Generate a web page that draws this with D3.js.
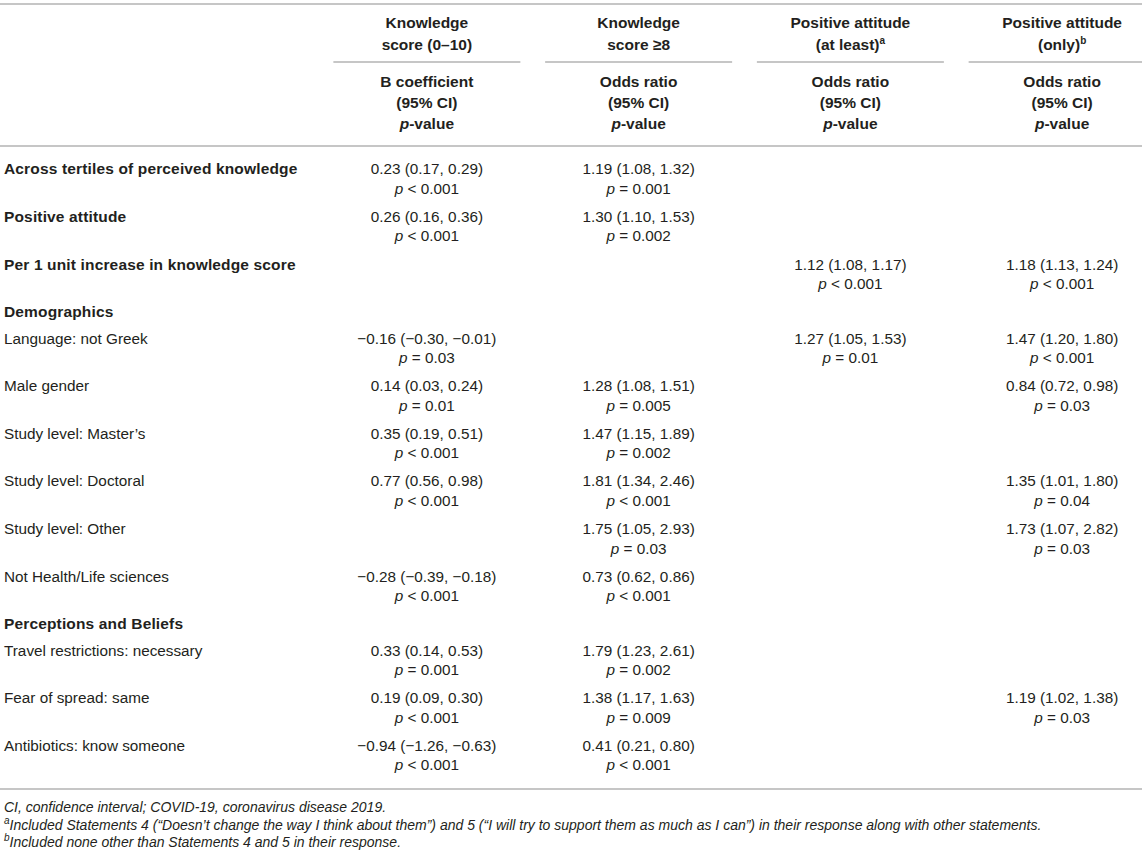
<!DOCTYPE html>
<html>
<head>
<meta charset="utf-8">
<script src="https://cdn.jsdelivr.net/npm/d3@7"></script>
<style>
  html, body { margin: 0; padding: 0; background: #fff; }
  svg { display: block; font-family: "Liberation Sans", Arial, Helvetica, sans-serif; }
</style>
</head>
<body>
<svg id="chart" width="1146" height="858"></svg>
<script>
// ---------- DATA ----------
const columns = ["knowledgeScore", "knowledgeHigh", "attitudeAtLeast", "attitudeOnly"];
const headerLine1 = ["Knowledge", "Knowledge", "Positive attitude", "Positive attitude"];
const headerLine2 = ["score (0–10)", "score ≥8", "(at least)", "(only)"];
const headerNote = ["", "", "a", "b"];
const measureLabel = ["B coefficient", "Odds ratio", "Odds ratio", "Odds ratio"];

const rowLabels = [
  "Across tertiles of perceived knowledge",
  "Positive attitude",
  "Per 1 unit increase in knowledge score",
  "Demographics",
  "Language: not Greek",
  "Male gender",
  "Study level: Master’s",
  "Study level: Doctoral",
  "Study level: Other",
  "Not Health/Life sciences",
  "Perceptions and Beliefs",
  "Travel restrictions: necessary",
  "Fear of spread: same",
  "Antibiotics: know someone"
];
const boldRows = [
  "Across tertiles of perceived knowledge",
  "Positive attitude",
  "Per 1 unit increase in knowledge score",
  "Demographics",
  "Perceptions and Beliefs"
];
const sectionRows = ["Demographics", "Perceptions and Beliefs"];

// [estimate, lower CI, upper CI, p comparator, p value]
const knowledgeScore = [
  [0.23, 0.17, 0.29, "<", "0.001"],
  [0.26, 0.16, 0.36, "<", "0.001"],
  null,
  null,
  [-0.16, -0.30, -0.01, "=", "0.03"],
  [0.14, 0.03, 0.24, "=", "0.01"],
  [0.35, 0.19, 0.51, "<", "0.001"],
  [0.77, 0.56, 0.98, "<", "0.001"],
  null,
  [-0.28, -0.39, -0.18, "<", "0.001"],
  null,
  [0.33, 0.14, 0.53, "=", "0.001"],
  [0.19, 0.09, 0.30, "<", "0.001"],
  [-0.94, -1.26, -0.63, "<", "0.001"]
];
const knowledgeHigh = [
  [1.19, 1.08, 1.32, "=", "0.001"],
  [1.30, 1.10, 1.53, "=", "0.002"],
  null,
  null,
  null,
  [1.28, 1.08, 1.51, "=", "0.005"],
  [1.47, 1.15, 1.89, "=", "0.002"],
  [1.81, 1.34, 2.46, "<", "0.001"],
  [1.75, 1.05, 2.93, "=", "0.03"],
  [0.73, 0.62, 0.86, "<", "0.001"],
  null,
  [1.79, 1.23, 2.61, "=", "0.002"],
  [1.38, 1.17, 1.63, "=", "0.009"],
  [0.41, 0.21, 0.80, "<", "0.001"]
];
const attitudeAtLeast = [
  null,
  null,
  [1.12, 1.08, 1.17, "<", "0.001"],
  null,
  [1.27, 1.05, 1.53, "=", "0.01"],
  null, null, null, null, null, null, null, null, null
];
const attitudeOnly = [
  null,
  null,
  [1.18, 1.13, 1.24, "<", "0.001"],
  null,
  [1.47, 1.20, 1.80, "<", "0.001"],
  [0.84, 0.72, 0.98, "=", "0.03"],
  null,
  [1.35, 1.01, 1.80, "=", "0.04"],
  [1.73, 1.07, 2.82, "=", "0.03"],
  null,
  null,
  null,
  [1.19, 1.02, 1.38, "=", "0.03"],
  null
];
const footnoteMain = "CI, confidence interval; COVID-19, coronavirus disease 2019.";
const footnoteMarks = ["a", "b"];
const footnoteTexts = [
  "Included Statements 4 (“Doesn’t change the way I think about them”) and 5 (“I will try to support them as much as I can”) in their response along with other statements.",
  "Included none other than Statements 4 and 5 in their response."
];

// ---------- DRAW ----------
const series = { knowledgeScore, knowledgeHigh, attitudeAtLeast, attitudeOnly };
const tableRight = 1142;
const textColor = "#231f20";
const ruleColor = "#b3b3b3";
const fs = 15.3;
const fsBold = 15.5;

const svg = d3.select("#chart");

const x = d3.scaleBand().domain(columns).range([321, 1168]);
const cx = c => x(c) + x.bandwidth() / 2;

// row positions (first-line centre)
const rowHeight = l => sectionRows.includes(l) ? 26.5 : 47.6;
const rowY = [];
let acc = 169;
rowLabels.forEach(l => { rowY.push(acc); acc += rowHeight(l); });
const y = d3.scaleOrdinal().domain(rowLabels).range(rowY);

const fmt = v => d3.format(".2f")(v).replace("-", "−");

// rules
const rule = (x1, x2, yy) => svg.append("line")
  .attr("x1", x1).attr("x2", x2).attr("y1", yy).attr("y2", yy)
  .attr("stroke", ruleColor).attr("stroke-width", 1.6);
rule(0, tableRight, 4);
rule(0, tableRight, 146);
rule(0, tableRight, 789);
columns.forEach(c => rule(cx(c) - 93.5, Math.min(cx(c) + 93.5, tableRight), 62));

// header
const hdr = svg.append("g").attr("font-weight", "bold").attr("font-size", fsBold)
  .attr("fill", textColor).attr("text-anchor", "middle");
columns.forEach((c, i) => {
  hdr.append("text").attr("x", cx(c)).attr("y", 23).attr("dy", "0.35em").text(headerLine1[i]);
  const t2 = hdr.append("text").attr("x", cx(c)).attr("y", 45).attr("dy", "0.35em");
  t2.append("tspan").text(headerLine2[i]);
  if (headerNote[i]) {
    t2.append("tspan").attr("font-size", 10).attr("dy", -6).text(headerNote[i]);
  }
  hdr.append("text").attr("x", cx(c)).attr("y", 82).attr("dy", "0.35em").text(measureLabel[i]);
  hdr.append("text").attr("x", cx(c)).attr("y", 103).attr("dy", "0.35em").text("(95% CI)");
  const pv = hdr.append("text").attr("x", cx(c)).attr("y", 124).attr("dy", "0.35em");
  pv.append("tspan").attr("font-style", "italic").text("p");
  pv.append("tspan").text("-value");
});

// row labels
svg.append("g").selectAll("text").data(rowLabels).join("text")
  .attr("x", 4).attr("y", d => y(d)).attr("dy", "0.35em")
  .attr("fill", textColor)
  .attr("font-size", d => boldRows.includes(d) ? fsBold : fs)
  .attr("letter-spacing", d => boldRows.includes(d) ? 0.15 : 0)
  .attr("font-weight", d => boldRows.includes(d) ? "bold" : "normal")
  .text(d => d);

// cells
columns.forEach(c => {
  const g = svg.append("g").attr("font-size", fs).attr("fill", textColor).attr("text-anchor", "middle");
  const cells = series[c].map((v, i) => ({ v, label: rowLabels[i] })).filter(d => d.v);
  g.selectAll("text.est").data(cells).join("text").attr("class", "est")
    .attr("x", cx(c)).attr("y", d => y(d.label)).attr("dy", "0.35em")
    .text(d => `${fmt(d.v[0])} (${fmt(d.v[1])}, ${fmt(d.v[2])})`);
  const pt = g.selectAll("text.pv").data(cells).join("text").attr("class", "pv")
    .attr("x", cx(c)).attr("y", d => y(d.label) + 19.5).attr("dy", "0.35em");
  pt.append("tspan").attr("font-style", "italic").text("p");
  pt.append("tspan").text(d => ` ${d.v[3]} ${d.v[4]}`);
});

// footnotes
const fn = svg.append("g").attr("font-size", 14).attr("font-style", "italic").attr("fill", textColor);
fn.append("text").attr("x", 4).attr("y", 807).attr("dy", "0.35em").text(footnoteMain);
footnoteMarks.forEach((m, i) => {
  const t = fn.append("text").attr("x", 4).attr("y", 825 + i * 17).attr("dy", "0.35em");
  t.append("tspan").attr("font-size", 10).attr("dy", "-0.1em").text(m);
  t.append("tspan").attr("dy", "0.45em").text(footnoteTexts[i]);
});
</script>
</body>
</html>
